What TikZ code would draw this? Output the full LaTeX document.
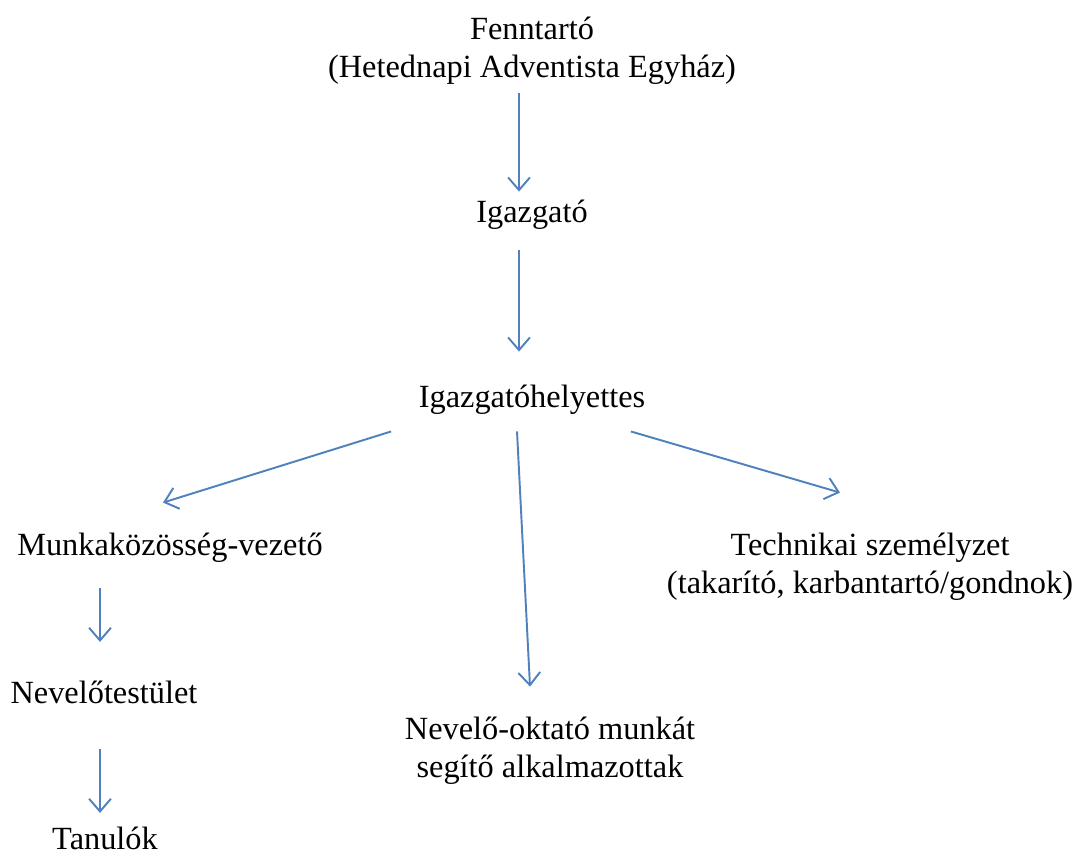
\documentclass[tikz,border=0pt]{standalone}
\usepackage{fontspec}
\setmainfont{Liberation Serif}
\usetikzlibrary{calc,arrows.meta}
\definecolor{officeblue}{RGB}{79,129,189}

\tikzset{
  box/.style={inner sep=0pt, align=center, font=\fontsize{9.2}{10.8}\selectfont},
  arr/.style={draw=officeblue, line width=0.55pt,
    -{Straight Barb[length=3.6pt,width=6.2pt,line width=0.55pt]}}
}

\begin{document}
\begin{tikzpicture}[x=0.01cm,y=-0.01cm]
		%%%%% START %%%%%
		
		\useasboundingbox (0,0) rectangle (1077,853);
		
		\node[box] (fenn) at (532,51) {Fenntartó\\(Hetednapi Adventista Egyház)};
		\node[box] (igaz) at (532,215) {Igazgató};
		\node[box] (hely) at (532,400) {Igazgatóhelyettes};
		
		\node[box] (munka) at (170,548) {Munkaközösség-vezető};
		\node[box] (nevtest) at (104,692) {Nevelőtestület};
		\node[box] (tanulo) at (105,838) {Tanulók};
		
		\node[box] (segito) at (550,751) {Nevelő-oktató munkát\\segítő alkalmazottak};
		\node[box] (tech) at (870,567) {Technikai személyzet\\(takarító, karbantartó/gondnok)};
		
		% top chain
		\draw[arr] ($(fenn.south)+(-13,8)$) -- ($(igaz.north)+(-13,-8)$);
		\draw[arr] ($(igaz.south)+(-13,20)$) -- ($(hely.north)+(-13,-33)$);
		
		% from the deputy
		\draw[arr] ($(hely.south west)+(-27,16)$) -- ($(munka.north)+(-7,-30)$);
		\draw[arr] ($(hely.south)+(-15,16)$) -- ($(segito.north)+(-20,-30)$);
		\draw[arr] ($(hely.south east)+(-15,16)$) -- ($(tech.north)+(-30,-40)$);
		
		% left chain
		\draw[arr] ($(munka.south)+(-70,25)$) -- ($(nevtest.north)+(-4,-38)$);
		\draw[arr] ($(nevtest.south)+(-4,45)$) -- ($(tanulo.north)+(-5,-13)$);
		
		%%%%% END %%%%%
	\end{tikzpicture}
\end{document}
